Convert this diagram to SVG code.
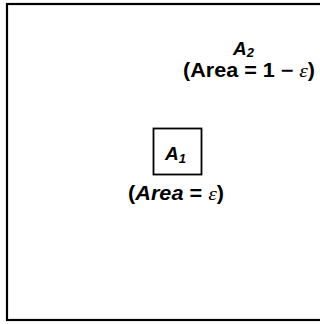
<svg xmlns="http://www.w3.org/2000/svg" width="320" height="324" viewBox="0 0 320 324">
<style>
.t{font-family:"Liberation Sans",Arial,sans-serif;font-weight:bold;fill:#000}
.i{font-style:italic}
.e{font-style:italic;font-weight:normal;font-family:"Liberation Serif",serif}
.box{fill:none;stroke:#000}
</style>
<rect width="320" height="324" fill="#fff"/>
<g id="A2">
<rect class="box" x="7" y="4" width="318" height="316" stroke-width="2.2"/>
<text class="t i" x="233" y="55" font-size="19">A<tspan font-size="13" dy="2">2</tspan></text>
<text class="t" x="183" y="77" font-size="19.5" textLength="132" lengthAdjust="spacingAndGlyphs">(Area = 1 − <tspan class="e">ε</tspan>)</text>
</g>
<g id="A1">
<rect class="box" x="153.5" y="128.5" width="48" height="46" stroke-width="1.8"/>
<text class="t i" x="165" y="160" font-size="19">A<tspan font-size="13" dy="3">1</tspan></text>
<text class="t" x="128" y="200" font-size="19.5" textLength="96" lengthAdjust="spacingAndGlyphs">(<tspan class="i">Area</tspan> = <tspan class="e">ε</tspan>)</text>
</g>
</svg>
